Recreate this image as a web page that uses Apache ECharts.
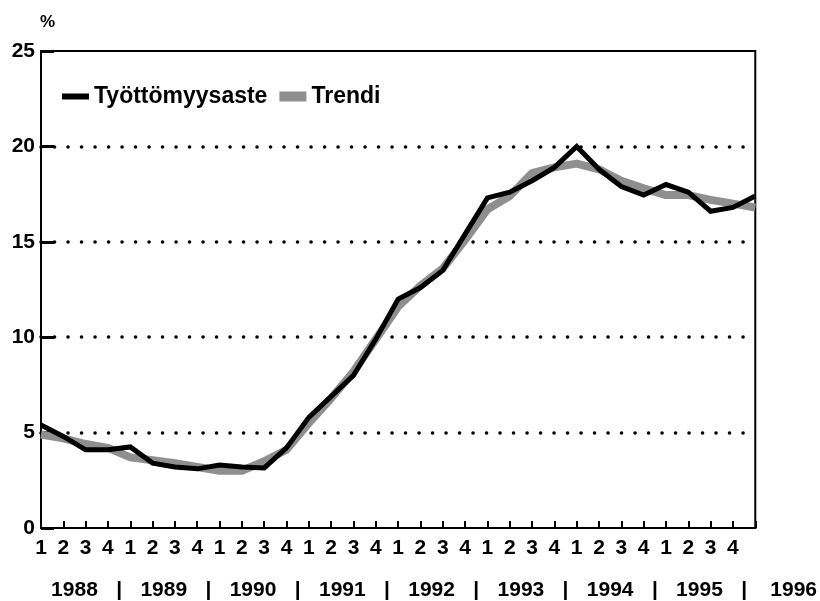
<!DOCTYPE html>
<html>
<head>
<meta charset="utf-8">
<script src="https://cdn.jsdelivr.net/npm/echarts@6/dist/echarts.min.js"></script>
<style>
  html, body { margin: 0; padding: 0; background: #fff; }
  #chart { width: 820px; height: 601px; }
</style>
</head>
<body>
<div id="chart"></div>
<script>
// quarters 1988Q1 .. 1996Q1 (last point has no label)
const quarters = ['1','2','3','4','1','2','3','4','1','2','3','4','1','2','3','4',
  '1','2','3','4','1','2','3','4','1','2','3','4','1','2','3','4',''];
const years = ['1988','1989','1990','1991','1992','1993','1994','1995'];
const lastYear = '1996';

const tyottomyysaste = [5.4, 4.8, 4.1, 4.1, 4.25, 3.4, 3.2, 3.1, 3.3, 3.2, 3.15, 4.2,
  5.8, 6.9, 8.0, 9.9, 12.0, 12.6, 13.5, 15.4, 17.3, 17.6, 18.2, 18.9,
  20.0, 18.8, 17.9, 17.45, 18.0, 17.6, 16.6, 16.8, 17.4];
const trendi = [4.9, 4.7, 4.4, 4.2, 3.7, 3.55, 3.4, 3.2, 3.0, 3.0, 3.5, 4.1,
  5.5, 6.8, 8.2, 9.9, 11.6, 12.7, 13.6, 15.1, 16.7, 17.4, 18.6, 18.9,
  19.1, 18.8, 18.2, 17.8, 17.45, 17.45, 17.2, 17.0, 16.8];

const font = 'Liberation Sans, Arial, Helvetica, sans-serif';

const chart = echarts.init(document.getElementById('chart'));

const option = {
  backgroundColor: '#fff',
  animation: false,
  grid: {
    left: 41, right: 62, top: 51, bottom: 73,
    show: true, borderColor: '#000', borderWidth: 2
  },
  legend: {
    left: 57, top: 80,
    itemWidth: 27, itemHeight: 10, itemGap: 12,
    symbolKeepAspect: true,
    textStyle: { color: '#000', fontSize: 23, fontWeight: 'bold', fontFamily: font },
    data: [
      { name: 'Työttömyysaste', icon: 'path://M0,0h27v6h-27z' },
      { name: 'Trendi', icon: 'rect' }
    ]
  },
  xAxis: [
    {
      type: 'category',
      data: quarters,
      boundaryGap: false,
      axisLine: { lineStyle: { color: '#000', width: 2 } },
      axisTick: { inside: true, length: 7, interval: 0, lineStyle: { color: '#000', width: 2 } },
      axisLabel: { interval: 0, margin: 10, color: '#000', fontSize: 21, fontWeight: 'bold', fontFamily: font },
      splitLine: { show: false }
    },
    {
      // year row under the quarter labels
      type: 'value',
      position: 'bottom',
      offset: 44,
      min: 0, max: 32, interval: 0.5,
      axisLine: { show: false },
      axisTick: { show: false },
      splitLine: { show: false },
      axisLabel: {
        margin: 8, color: '#000', fontSize: 21, fontWeight: 'bold', fontFamily: font,
        showMinLabel: false, showMaxLabel: false,
        formatter: function (v) {
          const k = (v - 1.5) / 2;
          if (Math.abs(k - Math.round(k)) > 1e-6 || k < 0) return '';
          const n = Math.round(k);
          if (n % 2 === 0) return years[n / 2] || '';
          return '|';
        }
      },
      name: lastYear,
      nameLocation: 'end',
      nameGap: 15,
      nameTextStyle: {
        color: '#000', fontSize: 21, fontWeight: 'bold', fontFamily: font,
        verticalAlign: 'top', padding: [8, 0, 0, 0]
      }
    }
  ],
  yAxis: {
    type: 'value',
    min: 0, max: 25, interval: 5,
    name: '%',
    nameLocation: 'end',
    nameGap: 20,
    nameTextStyle: { color: '#000', fontSize: 17, fontWeight: 'bold', fontFamily: font, align: 'left', padding: [0, 0, 0, -1] },
    axisLine: { show: true, lineStyle: { color: '#000', width: 2 } },
    axisTick: { show: true, inside: true, length: 13, lineStyle: { color: '#000', width: 3 } },
    axisLabel: { margin: 6, color: '#000', fontSize: 21, fontWeight: 'bold', fontFamily: font },
    splitLine: {
      show: true, showMinLine: false, showMaxLine: false,
      lineStyle: { color: '#000', width: 3.5, type: [0.1, 13.4], dashOffset: 0, cap: 'round' }
    }
  },
  series: [
    {
      name: 'Trendi',
      type: 'line',
      data: trendi,
      symbol: 'none',
      color: '#8f8f8f',
      lineStyle: { color: '#8f8f8f', width: 8, join: 'round' },
      z: 2
    },
    {
      name: 'Työttömyysaste',
      type: 'line',
      data: tyottomyysaste,
      symbol: 'none',
      color: '#000',
      lineStyle: { color: '#000', width: 5, join: 'miter' },
      z: 3
    }
  ]
};

chart.setOption(option);
</script>
</body>
</html>
